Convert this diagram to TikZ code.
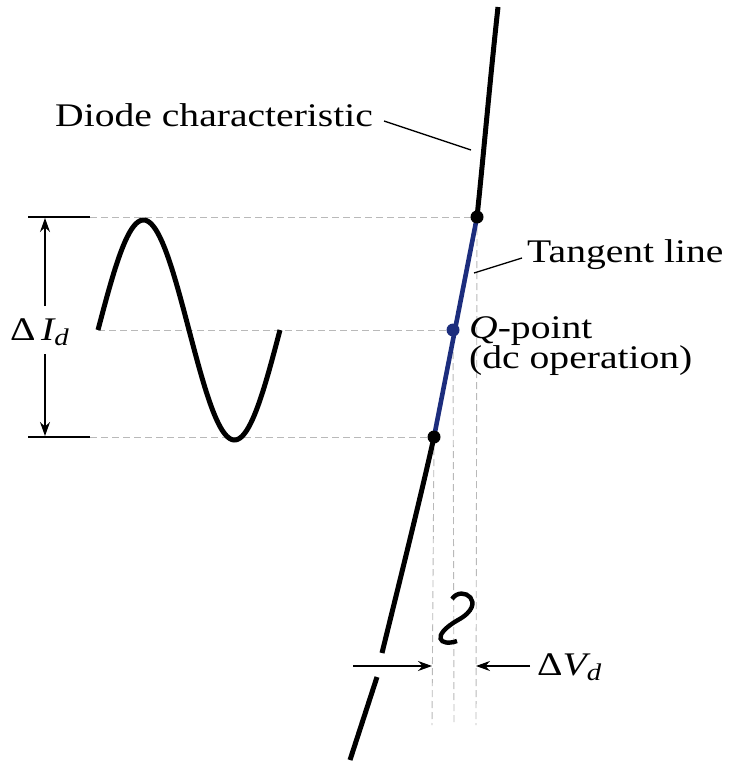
\documentclass[tikz,border=0pt]{standalone}
\usepackage{fontspec}
\setmainfont{Liberation Serif}
\newfontfamily\lab[FakeStretch=1.2]{Liberation Serif}
\usetikzlibrary{arrows.meta}
\definecolor{tanblue}{RGB}{28,45,125}
\tikzset{
  curve/.style={line width=5pt,black},
  guide/.style={gray!55,line width=0.9pt,dash pattern=on 7pt off 4pt},
  leader/.style={line width=1.3pt,black},
  dim/.style={line width=1.3pt,black,-{Stealth[length=14pt,width=10pt]}},
  lbl/.style={font=\lab\fontsize{33}{36}\selectfont,inner sep=0pt},
  dot/.style={circle,fill=#1,inner sep=0pt,minimum size=13pt}
}
\begin{document}
\begin{tikzpicture}[x=1pt,y=-1pt]
\useasboundingbox[fill=white] (0,0) rectangle (740,770);
% key points
\coordinate (top) at (477,217);
\coordinate (Q) at (453,330);
\coordinate (bot) at (434,437);
\coordinate (ctop) at (498,7);
\coordinate (gapA) at (382,653);
\coordinate (gapB) at (377,677);
\coordinate (cend) at (350,760);
% guide lines
\coordinate (tl) at (90,217);
\coordinate (bl) at (90,437);
\draw[guide] (tl) -- (top);
\draw[guide] (bl) -- (bot);
\draw[guide] (98,330) -- (Q);
\coordinate (vA) at (432,725);
\coordinate (vB) at (454,725);
\coordinate (vC) at (476,725);
\draw[guide] (bot) -- (vA);
\draw[guide] (Q) -- (vB);
\draw[guide] (top) -- (vC);
% diode characteristic
\draw[curve] (ctop) .. controls (490,80) and (483,160) .. (top);
\draw[curve] (bot) .. controls (420,500) and (395,600) .. (gapA);
\draw[curve] (gapB) -- (cend);
% tangent line
\draw[line width=4.6pt,tanblue] (top) -- (bot);
\node[dot=black] (dtop) at (top) {};
\node[dot=black] (dbot) at (bot) {};
\node[dot=tanblue] (dQ) at (Q) {};
% sine wave
\draw[line width=5pt] plot[domain=0:360,samples=120] ({98+0.50556*\x},{330-110*sin(\x)});
% small voltage wave
\draw[line width=4.4pt] (452,599) .. controls (462,584) and (489,603) .. (458,620) .. controls (430,636) and (440,647) .. (457,641);
% Delta I_d
\draw[leader] (28,217) -- (tl);
\draw[leader] (28,437) -- (bl);
\node[lbl,anchor=base west] (dI) at (10,340) {Δ\,{\itshape I}\raisebox{-0.35ex}{\fontsize{24}{26}\selectfont\itshape d}};
\coordinate (aT) at (45,218);
\coordinate (aB) at (45,436);
\draw[dim] (45,306) -- (aT);
\draw[dim] (45,354) -- (aB);
% Delta V_d
\coordinate (vl) at (353,666);
\coordinate (vlt) at (432,666);
\coordinate (vr) at (530,666);
\coordinate (vrt) at (476,666);
\draw[dim] (vl) -- (vlt);
\draw[dim] (vr) -- (vrt);
\node[lbl,anchor=base west] (dV) at (537,675) {Δ{\itshape V}\raisebox{-0.35ex}{\fontsize{24}{26}\selectfont\itshape d}};
% labels
\node[lbl,anchor=base west] (diode) at (55,127) {Diode characteristic};
\coordinate (dl1) at (384,121);
\coordinate (dl2) at (471,150);
\draw[leader] (dl1) -- (dl2);
\node[lbl,anchor=base west] (tan) at (527,262) {Tangent line};
\coordinate (tl1) at (522,258);
\coordinate (tl2) at (474,273);
\draw[leader] (tl1) -- (tl2);
\node[lbl,anchor=north west,align=left,font=\lab\fontsize{33}{28}\selectfont] (qp) at (469,316) {{\itshape Q}-point\\(dc operation)};
\end{tikzpicture}
\end{document}
